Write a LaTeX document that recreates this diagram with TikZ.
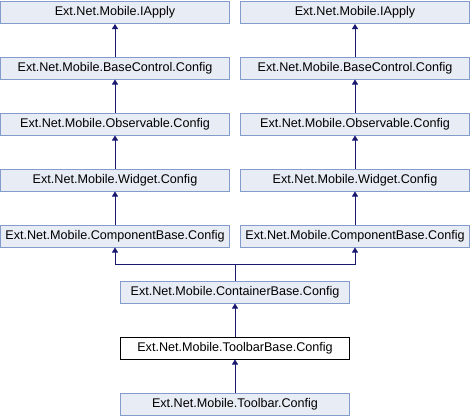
\documentclass[tikz,border=0pt]{standalone}
\usepackage{fontspec}
\setmainfont{Liberation Sans}
\usetikzlibrary{arrows.meta}
\definecolor{boxfill}{RGB}{232,236,245}
\definecolor{boxdraw}{RGB}{132,156,204}
\definecolor{edgeblue}{RGB}{25,25,112}
\tikzset{
    x=1pt, y=-1pt,
    class/.style={shape=rectangle,draw=boxdraw,fill=boxfill,line width=1pt,
        minimum width=229pt,minimum height=22pt,inner sep=0pt,font=\fontsize{12.6}{14}\selectfont},
    current class/.style={class,draw=black,fill=white},
    inherit/.style={draw=edgeblue,line width=1pt,-{Triangle[length=5pt,width=6pt]}}
}
\begin{document}
\begin{tikzpicture}
    \useasboundingbox (0,0) rectangle (470,416);
    % left column
    \node(iapplyL)[class] at (115,12.5) {Ext.Net.Mobile.IApply};
    \node(basectrlL)[class] at (115,68) {Ext.Net.Mobile.BaseControl.Config};
    \node(observL)[class] at (115,124) {Ext.Net.Mobile.Observable.Config};
    \node(widgetL)[class] at (115,180) {Ext.Net.Mobile.Widget.Config};
    \node(compL)[class] at (115,236) {Ext.Net.Mobile.ComponentBase.Config};
    % right column
    \node(iapplyR)[class] at (355,12.5) {Ext.Net.Mobile.IApply};
    \node(basectrlR)[class] at (355,68) {Ext.Net.Mobile.BaseControl.Config};
    \node(observR)[class] at (355,124) {Ext.Net.Mobile.Observable.Config};
    \node(widgetR)[class] at (355,180) {Ext.Net.Mobile.Widget.Config};
    \node(compR)[class] at (355,236) {Ext.Net.Mobile.ComponentBase.Config};
    % middle
    \node(container)[class] at (235,292) {Ext.Net.Mobile.ContainerBase.Config};
    \node(tbbase)[current class] at (235,348) {Ext.Net.Mobile.ToolbarBase.Config};
    \node(toolbar)[class] at (235,404) {Ext.Net.Mobile.Toolbar.Config};
    \coordinate(split) at (235,264);
    \draw[inherit](basectrlL)--(iapplyL);
    \draw[inherit](observL)--(basectrlL);
    \draw[inherit](widgetL)--(observL);
    \draw[inherit](compL)--(widgetL);
    \draw[inherit](basectrlR)--(iapplyR);
    \draw[inherit](observR)--(basectrlR);
    \draw[inherit](widgetR)--(observR);
    \draw[inherit](compR)--(widgetR);
    \draw[inherit](container.north)--(split)-|(compL.south);
    \draw[inherit](split)-|(compR.south);
    \draw[inherit](tbbase)--(container);
    \draw[inherit](toolbar)--(tbbase);
\end{tikzpicture}
\end{document}
